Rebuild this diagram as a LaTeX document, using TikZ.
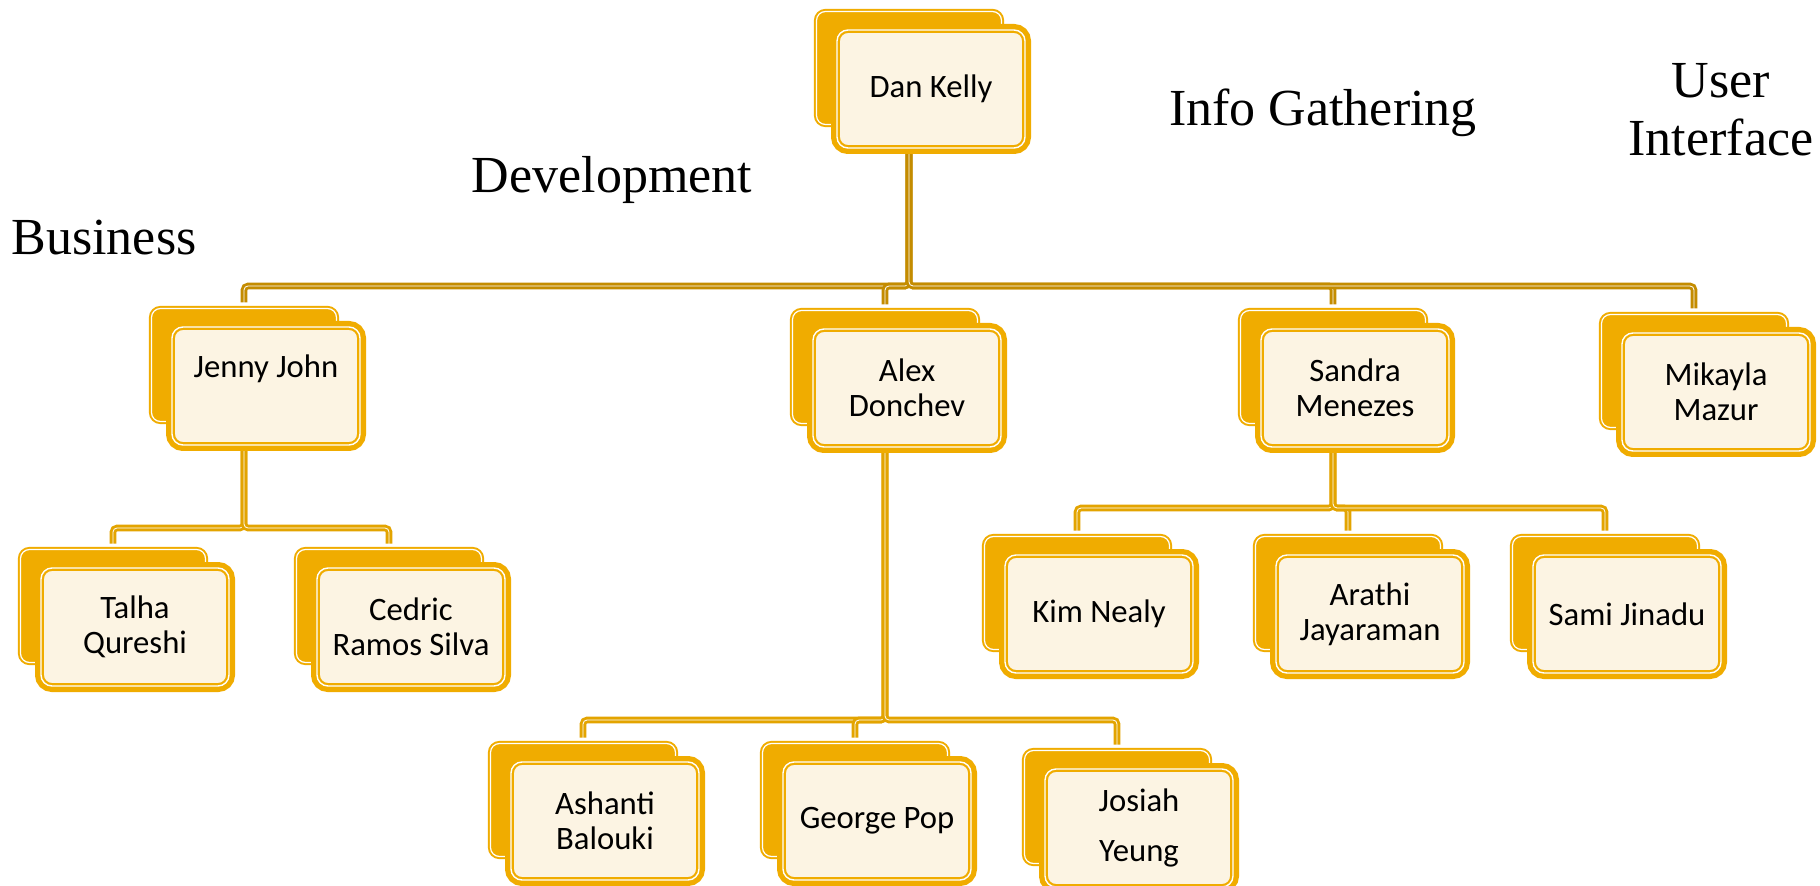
\documentclass[tikz,border=0pt]{standalone}
\usepackage{fontspec}
\setmainfont{Liberation Serif}
\newfontfamily\boxfont{Carlito}
\usetikzlibrary{positioning,calc,backgrounds}
\definecolor{orgbox}{HTML}{F0AC00}
\definecolor{orgcream}{HTML}{FCF4E3}
\definecolor{orgline}{HTML}{C48C00}
\definecolor{orgsub}{HTML}{E3A400}

\begin{document}
\begin{tikzpicture}[x=0.1mm,y=-0.1mm,
  backbox/.style={rectangle,rounded corners=0.9mm,
    minimum width=18.5mm,minimum height=11.3mm,
    preaction={draw=white,line width=1.2mm},
    fill=orgbox,draw=orgbox,double=white,line width=0.2mm,double distance=0.12mm},
  frontbox/.style={rectangle,rounded corners=1.1mm,
    minimum width=18.8mm,minimum height=11.8mm,
    preaction={draw=orgbox,line width=1.2mm},
    fill=orgcream,draw=orgbox,double=white,line width=0.22mm,double distance=0.14mm,
    font=\boxfont\fontsize{9.3}{10}\selectfont,align=center,text=black},
  conn/.style={draw=orgline,double=white,line width=0.29mm,
    double distance=0.08mm,rounded corners=0.4mm},
  subconn/.style={conn,draw=orgsub},
  group/.style={font=\fontsize{14.8}{16.5}\selectfont,align=center}]
\useasboundingbox (0,0) rectangle (1820,886);
%\draw[help lines,step=1cm] (0,0) grid (1820,886);

% top
\node[backbox] (dan) at (909,68) {};
\node[frontbox] (danf) at ($(dan)+(22,21)$) {Dan Kelly};

% second row
\node[backbox] (jenny) at (244,365) {};
\node[frontbox] (jennyf) at ($(jenny)+(22,21)$) {\raisebox{2.3pt}[0pt][0pt]{Jenny John}};

\node[backbox] (alex) at (885,367) {};
\node[frontbox] (alexf) at ($(alex)+(22,21)$) {Alex\\Donchev};

\node[backbox] (sandra) at (1333,367) {};
\node[frontbox] (sandraf) at ($(sandra)+(22,21)$) {Sandra\\Menezes};

\node[backbox] (mikayla) at (1694,371) {};
\node[frontbox] (mikaylaf) at ($(mikayla)+(22,21)$) {Mikayla\\Mazur};

% business
\node[backbox] (talha) at (113,606) {};
\node[frontbox] (talhaf) at ($(talha)+(22,21)$) {Talha\\Qureshi};

\node[backbox] (cedric) at (389,606) {};
\node[frontbox] (cedricf) at ($(cedric)+(22,21)$) {Cedric\\Ramos Silva};

% info gathering
\node[backbox] (kim) at (1077,593) {};
\node[frontbox] (kimf) at ($(kim)+(22,21)$) {Kim Nealy};

\node[backbox] (arathi) at (1348,593) {};
\node[frontbox] (arathif) at ($(arathi)+(22,21)$) {Arathi\\Jayaraman};

\node[backbox] (sami) at (1605,593) {};
\node[frontbox] (samif) at ($(sami)+(22,21)$) {Sami Jinadu};

% development
\node[backbox] (ashanti) at (583,800) {};
\node[frontbox] (ashantif) at ($(ashanti)+(22,21)$) {Ashanti\\Balouki};

\node[backbox] (george) at (855,800) {};
\node[frontbox] (georgef) at ($(george)+(22,21)$) {George Pop};

\node[backbox] (josiah) at (1117,807) {};
\node[frontbox] (josiahf) at ($(josiah)+(22,21)$) {Josiah\\[4pt]Yeung};

% group titles
\node[group] (business) at (104,238) {Business};
\node[group] (development) at (612,180) {Development};
\node[group] (info) at (1323,113) {Info Gathering};
\node[group] (ui) at (1721,110) {User\\Interface};

\coordinate (bus1) at (0,286);
\coordinate (bus2) at (0,528);
\coordinate (bus3) at (0,720);
\coordinate (bus4) at (0,508);

\begin{scope}[on background layer]
\fill[white] (0,0) rectangle (1820,886);
\foreach \c in {jenny,alex,sandra,mikayla}
  \draw[conn] (dan.south) |- (\c.north |- bus1) -- (\c.north);
\foreach \c in {talha,cedric}
  \draw[subconn] (jenny.south) |- (\c.north |- bus2) -- (\c.north);
\foreach \c in {ashanti,george,josiah}
  \draw[subconn] (alex.south) |- (\c.north |- bus3) -- (\c.north);
\foreach \c in {kim,arathi,sami}
  \draw[subconn] (sandra.south) |- (\c.north |- bus4) -- (\c.north);
\end{scope}
\end{tikzpicture}
\end{document}
